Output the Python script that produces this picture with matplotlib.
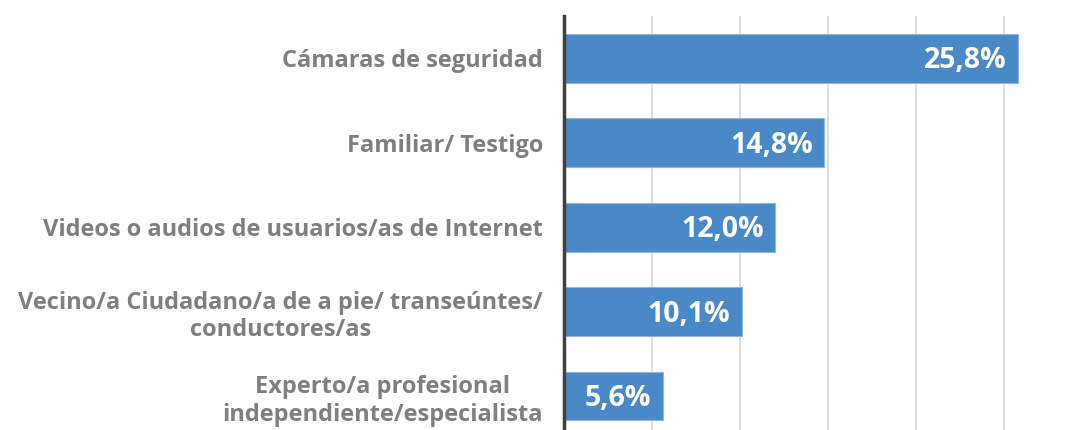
import matplotlib.pyplot as plt

categories = [
    "Cámaras de seguridad",
    "Familiar/ Testigo",
    "Videos o audios de usuarios/as de Internet",
    "Vecino/a Ciudadano/a de a pie/ transeúntes/\nconductores/as",
    "Experto/a profesional\nindependiente/especialista",
]
values = [25.8, 14.8, 12.0, 10.1, 5.6]
value_labels = ["25,8%", "14,8%", "12,0%", "10,1%", "5,6%"]

plt.rcParams['font.family'] = ['Open Sans', 'DejaVu Sans']

fig = plt.figure(figsize=(10.84, 4.30), dpi=100)
ax = fig.add_axes([0.5203, 0.0, 0.4797, 0.9628])

y = list(range(len(categories)))
ax.barh(y, values, height=0.575, color='#4a89c8', edgecolor='#8fb6e0', linewidth=0.8, zorder=3)

for yi, v, lab in zip(y, values, value_labels):
    ax.text(v - 0.65, yi + 0.03, lab, ha='right', va='center', color='white',
            fontsize=20.5, fontweight='bold', zorder=4)

ax.set_xlim(0, 29.55)
ax.set_ylim(4.4, -0.5)
ax.set_xticks([5, 10, 15, 20, 25])
ax.xaxis.grid(True, color='#d9d9d9', linewidth=1.2, zorder=0)
ax.tick_params(axis='x', bottom=False, labelbottom=False)
ax.set_yticks(y)
ax.set_yticklabels(categories, fontsize=17, fontweight='bold', color='#7f7f7f',
                   multialignment='center', linespacing=1.2)
ax.tick_params(axis='y', length=0, pad=15)

for s in ['top', 'right', 'bottom']:
    ax.spines[s].set_visible(False)
ax.spines['left'].set_color('#404040')
ax.spines['left'].set_linewidth(2.5)
ax.spines['left'].set_zorder(5)

fig.savefig('out.png', dpi=100)
